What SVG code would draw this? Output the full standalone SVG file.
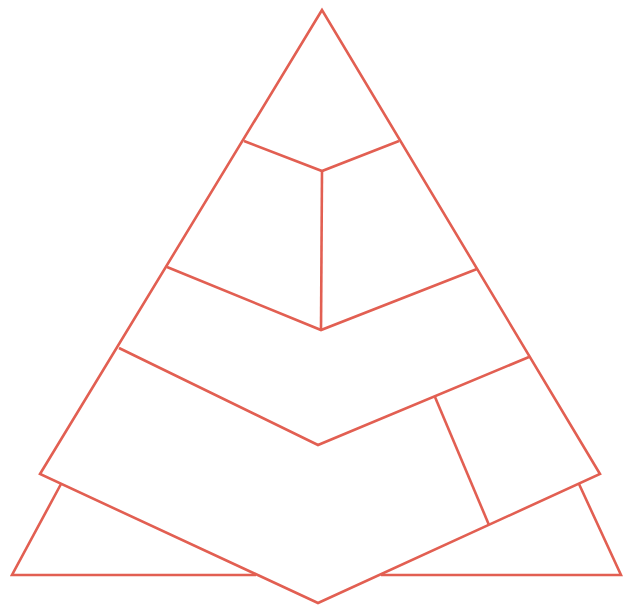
<svg xmlns="http://www.w3.org/2000/svg" width="623" height="605" viewBox="0 0 623 605">
<style>
.l{fill:none;stroke:#E25F52;stroke-width:2.6;stroke-linejoin:miter;stroke-linecap:butt}
</style>
<rect width="623" height="605" fill="#ffffff"/>
<g id="pyramid">
<path class="l" d="M322,10 L40,474 L318,603 L600,474 Z"/>
<path class="l" d="M244,141 L322,171 L399,141"/>
<path class="l" d="M322,171 L321,330"/>
<path class="l" d="M167,267 L321,330 L477,269"/>
<path class="l" d="M119,348 L318,445 L529,357"/>
<path class="l" d="M435,397 L489,525"/>
</g>
<g id="base">
<path class="l" d="M61,484 L12,575 L256,575"/>
<path class="l" d="M579,484 L621,575 L381,575"/>
</g>
</svg>
